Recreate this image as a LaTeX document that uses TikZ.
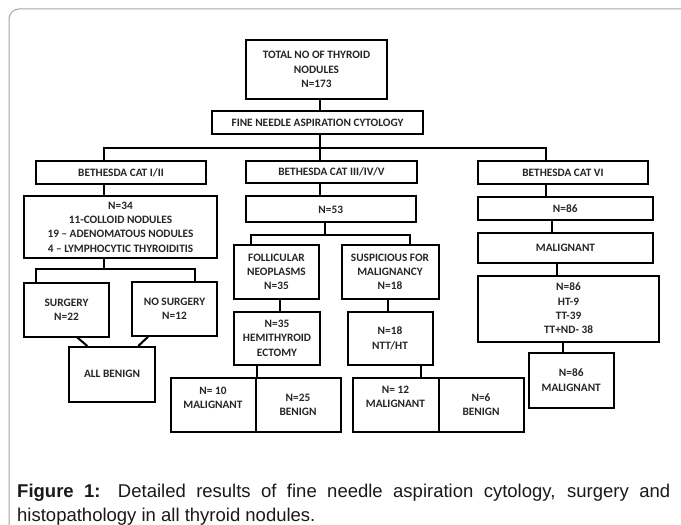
\documentclass[tikz,border=0pt]{standalone}
\usepackage{fontspec}
\setmainfont{Carlito}
\newfontfamily\capfont{Liberation Sans}
\usetikzlibrary{calc}
\newcommand\boxfont{\fontsize{11.3bp}{14.3bp}\selectfont\bfseries}
\tikzset{
  box/.style={draw, line width=2bp, align=center, inner sep=1bp, font=\boxfont, text=black!85},
  wire/.style={line width=2bp},
}
\begin{document}
\begin{tikzpicture}[x=1bp, y=-1bp]
\useasboundingbox (0,0) rectangle (681,525);
\fill[white] (0,0) rectangle (681,525);
\begin{scope}
\clip (0,0) rectangle (681,525);
\draw[black!35, line width=1bp, rounded corners=10bp] (9,9) rectangle (720,560);
\end{scope}

% boxes
\node[box, minimum width=141bp, minimum height=59bp] (total) at (316.5,69.5) {TOTAL NO OF THYROID\\NODULES\\N=173};
\node[box, minimum width=211bp, minimum height=23bp] (fnac) at (317.5,122.5) {FINE NEEDLE ASPIRATION CYTOLOGY};
\node[box, minimum width=170bp, minimum height=23bp] (bl) at (121,172.5) {BETHESDA CAT I/II};
\node[box, minimum width=171bp, minimum height=22bp] (bm) at (331.5,172) {BETHESDA CAT III/IV/V};
\node[box, minimum width=170bp, minimum height=23bp] (br) at (563,172.5) {BETHESDA CAT VI};
\node[box, minimum width=193bp, minimum height=61bp] (n34) at (120.5,227) {N=34\\11-COLLOID NODULES\\19 – ADENOMATOUS NODULES\\4 – LYMPHOCYTIC THYROIDITIS};
\node[box, minimum width=85bp, minimum height=54bp] (surg) at (66.5,309.5) {SURGERY\\N=22};
\node[box, minimum width=85bp, minimum height=53.5bp] (nosurg) at (174.5,308.75) {NO SURGERY\\N=12};
\node[box, minimum width=86bp, minimum height=54.5bp] (allben) at (112,374.25) {ALL BENIGN};
\node[box, minimum width=169.5bp, minimum height=26bp] (n53) at (330.75,209.5) {N=53};
\node[box, minimum width=85bp, minimum height=54bp] (foll) at (276.5,272) {FOLLICULAR\\NEOPLASMS\\N=35};
\node[box, minimum width=97bp, minimum height=54bp] (susp) at (390,272) {SUSPICIOUS FOR\\MALIGNANCY\\N=18};
\node[box, minimum width=86bp, minimum height=53.5bp] (hemi) at (277,338.25) {N=35\\HEMITHYROID\\ECTOMY};
\node[box, minimum width=85bp, minimum height=53.5bp] (ntt) at (390,338.25) {N=18\\NTT/HT};
\node[box, minimum width=85bp, minimum height=54bp, text depth=14bp] (m10) at (213,404.5) {N= 10\\MALIGNANT};
\node[box, minimum width=85bp, minimum height=54bp] (b25) at (298,404.5) {N=25\\BENIGN};
\node[box, minimum width=86bp, minimum height=54bp, text depth=16bp] (m12) at (395.5,405) {N= 12\\MALIGNANT};
\node[box, minimum width=85bp, minimum height=54bp] (b6) at (481,405) {N=6\\BENIGN};
\node[box, minimum width=174.5bp, minimum height=23.5bp] (n86) at (565.25,208.75) {N=86};
\node[box, minimum width=175bp, minimum height=30bp] (mal) at (565.5,248) {MALIGNANT};
\node[box, minimum width=181bp, minimum height=66bp] (big) at (568.5,308.5) {N=86\\HT-9\\TT-39\\TT+ND- 38};
\node[box, minimum width=84.5bp, minimum height=54.5bp] (n86m) at (571.25,380.25) {N=86\\MALIGNANT};

% top connectors
\coordinate (busL) at (104,148);
\coordinate (busM) at (320,148);
\coordinate (busR) at (546,148);
\draw[wire] (total.south -| busM) -- (fnac.north -| busM);
\draw[wire] (fnac.south -| busM) -- (bm.north -| busM);
\draw[wire] (bl.north -| busL) -- (busL) -- (busR) -- (br.north -| busR);

% left column
\draw[wire] (bl.south -| busL) -- (n34.north -| busL);
\coordinate (sbL) at (36,269);
\coordinate (sbM) at (104,269);
\coordinate (sbR) at (195,269);
\draw[wire] (n34.south -| sbM) -- (sbM);
\draw[wire] (surg.north -| sbL) -- (sbL) -- (sbR) -- (nosurg.north -| sbR);
\draw[wire] ([xshift=10.8bp]surg.south) -- ([xshift=-24.7bp]allben.north);
\draw[wire] ([xshift=-26.2bp]nosurg.south) -- ([xshift=26.3bp]allben.north);

% middle column
\draw[wire] (bm.south -| busM) -- (n53.north -| busM);
\coordinate (mbL) at (251,235);
\coordinate (mbM) at (325,235);
\coordinate (mbR) at (410,235);
\draw[wire] (n53.south -| mbM) -- (mbM);
\draw[wire] (foll.north -| mbL) -- (mbL) -- (mbR) -- (susp.north -| mbR);
\coordinate (c1) at ([xshift=3.5bp]foll.south);
\draw[wire] (c1) -- (c1 |- hemi.north);
\draw[wire] (hemi.south -| m10.north east) -- (m10.north east);
\coordinate (c2) at ([xshift=-1.7bp]susp.south);
\draw[wire] (c2) -- (c2 |- ntt.north);
\coordinate (c3) at ([xshift=31bp]ntt.south);
\draw[wire] (c3) -- (c3 |- m12.north);

% right column
\draw[wire] (br.south -| busR) -- (n86.north -| busR);
\coordinate (c4) at ([xshift=-13.5bp]n86.south);
\draw[wire] (c4) -- (c4 |- mal.north);
\coordinate (c5) at ([xshift=-8.2bp]mal.south);
\draw[wire] (c5) -- (c5 |- big.north);
\coordinate (c6) at ([xshift=-5.8bp]big.south);
\draw[wire] (c6) -- (c6 |- n86m.north);

% caption
\node[anchor=base west, inner sep=0, text=black!90] (cap) at (17,497.3) {\parbox[t]{653bp}{\capfont\fontsize{18.5bp}{24bp}\selectfont\hyphenpenalty=10000 \tolerance=9999 \textbf{Figure 1:} Detailed results of fine needle aspiration cytology, surgery and histopathology in all thyroid nodules.}};
\end{tikzpicture}
\end{document}
